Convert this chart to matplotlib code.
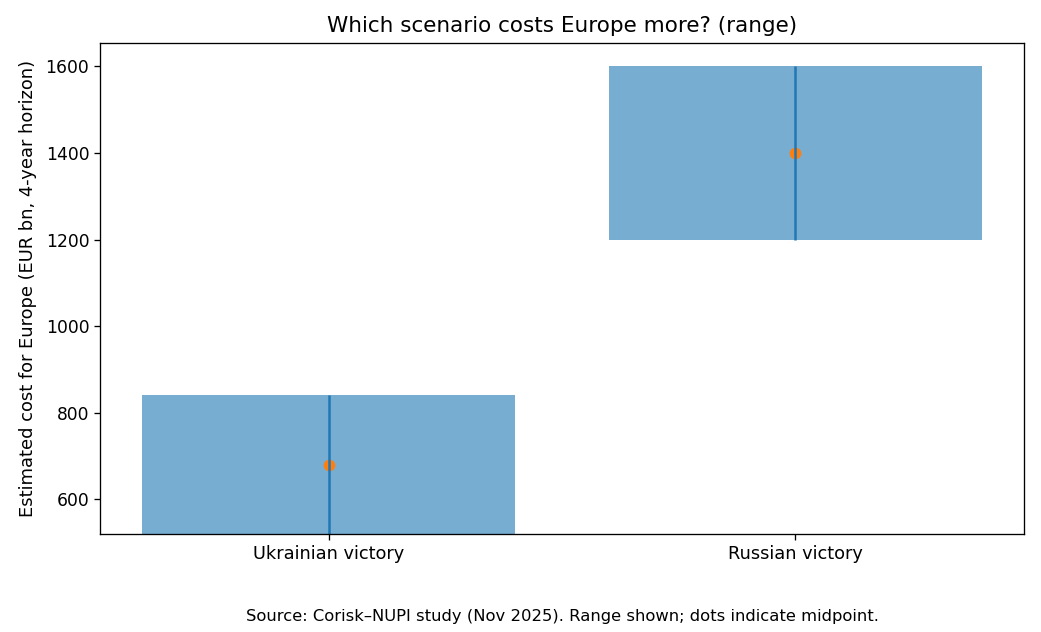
import matplotlib
matplotlib.use("Agg")
import matplotlib.pyplot as plt
import numpy as np

scenarios = ["Ukrainian victory", "Russian victory"]
low = [520, 1200]
high = [840, 1600]
mid = [680, 1400]

fig = plt.figure(figsize=(10.41, 6.32), dpi=100)
ax = fig.add_axes([100/1041, (632-534)/632, 924/1041, 491/632])

x = np.arange(len(scenarios))
heights = [h - l for h, l in zip(high, low)]
ax.bar(x, heights, bottom=low, width=0.8, color="C0", alpha=0.6)
ax.scatter(x, mid, color="C1", s=55, zorder=1.5)
ax.vlines(x, low, high, color="C0", linewidth=1.8, zorder=2)

ax.set_xticks(x)
ax.set_xticklabels(scenarios, fontsize=12.8)
ax.tick_params(axis="y", labelsize=12.3)
ax.tick_params(length=4.2, width=0.95)
for s in ax.spines.values():
    s.set_linewidth(0.95)
ax.set_ylabel("Estimated cost for Europe (EUR bn, 4-year horizon)", fontsize=12.9, labelpad=6)
ax.set_title("Which scenario costs Europe more? (range)", fontsize=15.5, pad=8)

fig.text(562/1041, 1 - 616/632, "Source: Corisk\u2013NUPI study (Nov 2025). Range shown; dots indicate midpoint.",
         ha="center", va="center", fontsize=11.8)

fig.savefig("out.png", dpi=100)
